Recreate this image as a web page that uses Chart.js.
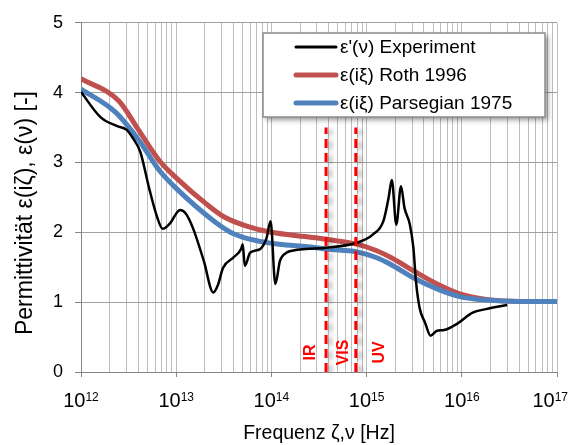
<!DOCTYPE html>
<html lang="de">
<head>
<meta charset="UTF-8">
<title>Permittivität</title>
<script src="https://cdn.jsdelivr.net/npm/chart.js@4/dist/chart.umd.min.js"></script>
<style>
    body { margin: 0; background: #fff; }
    #wrap { width: 569px; height: 445px; }
</style>
</head>
<body>
<div id="wrap"><canvas id="chart" width="569" height="445"></canvas></div>
<script>
// frequencies in Hz
var expHz  = [1.0e12, 1.6e12, 2.4e12, 3.0e12, 3.5e12, 4.2e12, 5.2e12, 6.2e12, 7.2e12, 8.5e12,
              1.1e13, 1.26e13, 1.5e13, 1.95e13, 2.45e13, 2.75e13, 3.1e13, 4.0e13, 4.8e13, 5.0e13,
              5.25e13, 6.0e13, 7.6e13, 8.9e13, 9.8e13, 1.1e14, 1.23e14, 1.45e14, 1.7e14, 2.3e14,
              3.8e14, 7.9e14, 1.17e15, 1.5e15, 1.7e15, 1.84e15, 2.05e15, 2.3e15, 2.5e15, 2.85e15,
              3.1e15, 3.3e15, 3.6e15, 4.1e15, 4.7e15, 5.5e15, 6.5e15, 8.9e15, 1.3e16, 1.8e16, 3.0e16];
var expEps = [4.01, 3.65, 3.52, 3.47, 3.35, 3.15, 2.63, 2.25, 2.05, 2.12,
              2.32, 2.27, 2.06, 1.59, 1.14, 1.25, 1.49, 1.64, 1.76, 1.83,
              1.52, 1.71, 1.76, 1.92, 2.16, 1.26, 1.59, 1.71, 1.74, 1.76,
              1.78, 1.85, 1.97, 2.16, 2.49, 2.75, 2.11, 2.66, 2.35, 2.11,
              1.78, 1.30, 0.92, 0.71, 0.52, 0.59, 0.60, 0.69, 0.85, 0.90, 0.96];

var rothHz  = [1.0e12, 2.5e12, 4.0e12, 6.8e12, 1.0e13, 2.1e13, 3.2e13, 5.5e13, 1.0e14, 2.6e14,
               3.8e14, 7.9e14, 1.26e15, 1.8e15, 3.1e15, 5.5e15, 9.5e15, 1.8e16, 4.0e16, 1.0e17];
var rothEps = [4.20, 3.88, 3.47, 3.01, 2.78, 2.40, 2.22, 2.09, 2.00, 1.93,
               1.90, 1.83, 1.74, 1.64, 1.45, 1.26, 1.12, 1.04, 1.01, 1.01];

var parsHz  = [1.0e12, 2.3e12, 4.0e12, 6.8e12, 1.0e13, 2.5e13, 4.0e13, 7.6e13, 1.2e14, 2.6e14,
               3.8e14, 7.9e14, 1.26e15, 1.8e15, 3.1e15, 5.5e15, 9.5e15, 1.8e16, 4.0e16, 1.0e17];
var parsEps = [4.05, 3.72, 3.33, 2.87, 2.63, 2.16, 1.98, 1.87, 1.83, 1.79,
               1.76, 1.72, 1.64, 1.54, 1.35, 1.19, 1.08, 1.03, 1.01, 1.01];

var labels = ["ε'(ν) Experiment", "ε(iξ) Roth 1996", "ε(iξ) Parsegian 1975"];

// IR / VIS / UV boundaries
var bandHz = [3.75e14, 7.7e14];
var bandTop = 3.5;
var bandNames = ['IR', 'VIS', 'UV'];
var bandNameHz = [2.9e14, 6.4e14, 1.52e15];
var bandNameEps = 0.28;

var decades = [12, 13, 14, 15, 16, 17];
var xTitle = 'Frequenz ζ,ν [Hz]';
var yTitle = 'Permittivität ε(iζ), ε(ν) [-]';

var FONT = '"Liberation Sans", Arial, sans-serif';

function pts(xs, ys) {
    return xs.map(function (x, i) { return { x: x, y: ys[i] }; });
}

// grid positions 1..9 x 10^n
var gridHz = [];
decades.forEach(function (d, i) {
    var last = i === decades.length - 1;
    for (var m = 1; m <= (last ? 1 : 9); m++) gridHz.push(m * Math.pow(10, d));
});

function isDecade(v) {
    var l = Math.log10(v);
    return Math.abs(l - Math.round(l)) < 1e-9;
}

var datasets = [
    { label: labels[0], data: pts(expHz, expEps), borderColor: '#000000', borderWidth: 2.5,
      cubicInterpolationMode: 'monotone', order: 1 },
    { label: labels[1], data: pts(rothHz, rothEps), borderColor: '#C0504D', borderWidth: 5,
      cubicInterpolationMode: 'monotone', order: 3 },
    { label: labels[2], data: pts(parsHz, parsEps), borderColor: '#4F81BD', borderWidth: 5,
      cubicInterpolationMode: 'monotone', order: 2 }
];
bandHz.forEach(function (hz) {
    datasets.push({ label: '', data: [{ x: hz, y: 0 }, { x: hz, y: bandTop }], borderColor: '#FF0000',
        borderWidth: 3, borderDash: [9, 5], tension: 0, order: 0, shadow: true });
});

var shadowPlugin = {
    id: 'shadow',
    beforeDatasetDraw: function (chart, args) {
        var ds = chart.data.datasets[args.index];
        if (!ds.shadow) return;
        var c = chart.ctx;
        c.save();
        c.shadowColor = 'rgba(0,0,0,0.35)';
        c.shadowBlur = 4;
        c.shadowOffsetX = 4;
        c.shadowOffsetY = 2;
    },
    afterDatasetDraw: function (chart, args) {
        if (chart.data.datasets[args.index].shadow) chart.ctx.restore();
    }
};

var textPlugin = {
    id: 'texts',
    afterDraw: function (chart) {
        var c = chart.ctx, xs = chart.scales.x, ys = chart.scales.y, a = chart.chartArea;
        c.save();
        c.fillStyle = '#000';
        c.textBaseline = 'alphabetic';
        // x tick labels 10^n
        decades.forEach(function (d) {
            var px = xs.getPixelForValue(Math.pow(10, d));
            c.font = '20px ' + FONT;
            var w1 = c.measureText('10').width;
            c.font = '12px ' + FONT;
            var w2 = c.measureText(String(d)).width;
            var x0 = Math.min(px - (w1 + w2) / 2, chart.width - 1 - (w1 + w2));
            c.textAlign = 'left';
            c.font = '20px ' + FONT;
            c.fillText('10', x0, 407);
            c.font = '12px ' + FONT;
            c.fillText(String(d), x0 + w1, 401);
        });
        // axis titles
        c.textAlign = 'center';
        c.font = '19.5px ' + FONT;
        c.fillText(xTitle, (a.left + a.right) / 2, 439);
        c.save();
        c.translate(32, 213);
        c.rotate(-Math.PI / 2);
        c.font = '23px ' + FONT;
        c.fillText(yTitle, 0, 0);
        c.restore();
        // band names
        c.fillStyle = '#FF0000';
        c.font = 'bold 16px ' + FONT;
        bandNames.forEach(function (n, i) {
            c.save();
            c.translate(xs.getPixelForValue(bandNameHz[i]), ys.getPixelForValue(bandNameEps));
            c.rotate(-Math.PI / 2);
            c.fillText(n, 0, 0);
            c.restore();
        });
        // legend
        var bx = 263, by = 33, bw = 282, bh = 84;
        c.save();
        c.shadowColor = 'rgba(0,0,0,0.4)';
        c.shadowBlur = 5;
        c.shadowOffsetX = 3;
        c.shadowOffsetY = 3;
        c.fillStyle = '#fff';
        c.fillRect(bx, by, bw, bh);
        c.restore();
        c.strokeStyle = '#8c8c8c';
        c.lineWidth = 1.5;
        c.strokeRect(bx, by, bw, bh);
        c.textAlign = 'left';
        c.textBaseline = 'middle';
        c.font = '19px ' + FONT;
        for (var i = 0; i < 3; i++) {
            var ds = chart.data.datasets[i];
            var yy = 47 + i * 28;
            c.strokeStyle = ds.borderColor;
            c.lineWidth = i === 0 ? 3 : 5;
            c.lineCap = 'round';
            c.beginPath();
            c.moveTo(296, yy);
            c.lineTo(336, yy);
            c.stroke();
            c.fillStyle = '#000';
            c.fillText(ds.label, 340, yy + 1);
        }
        c.restore();
    }
};

new Chart(document.getElementById('chart'), {
    type: 'line',
    data: { datasets: datasets },
    options: {
        responsive: false,
        animation: false,
        layout: { padding: { top: 19, right: 12, left: 0, bottom: 0 } },
        elements: { point: { radius: 0 } },
        plugins: { legend: { display: false }, tooltip: { enabled: false } },
        scales: {
            x: {
                type: 'logarithmic',
                min: 1e12,
                max: 1e17,
                afterFit: function (s) { s.height = 73; },
                afterBuildTicks: function (s) { s.ticks = gridHz.map(function (v) { return { value: v }; }); },
                ticks: { display: false, autoSkip: false },
                grid: {
                    color: '#bdbdbd',
                    lineWidth: 1,
                    tickLength: 5,
                    tickColor: function (ctx) { return ctx.tick && isDecade(ctx.tick.value) ? '#868686' : 'rgba(0,0,0,0)'; }
                },
                border: { color: '#868686', width: 1 }
            },
            y: {
                min: 0,
                max: 5,
                afterFit: function (s) { s.width = 81; },
                ticks: { stepSize: 1, padding: 12, color: '#000', font: { size: 18, family: FONT } },
                grid: { color: '#a0a0a0', tickLength: 6, tickColor: '#868686' },
                border: { color: '#868686', width: 1 }
            }
        }
    },
    plugins: [shadowPlugin, textPlugin]
});
</script>
</body>
</html>
